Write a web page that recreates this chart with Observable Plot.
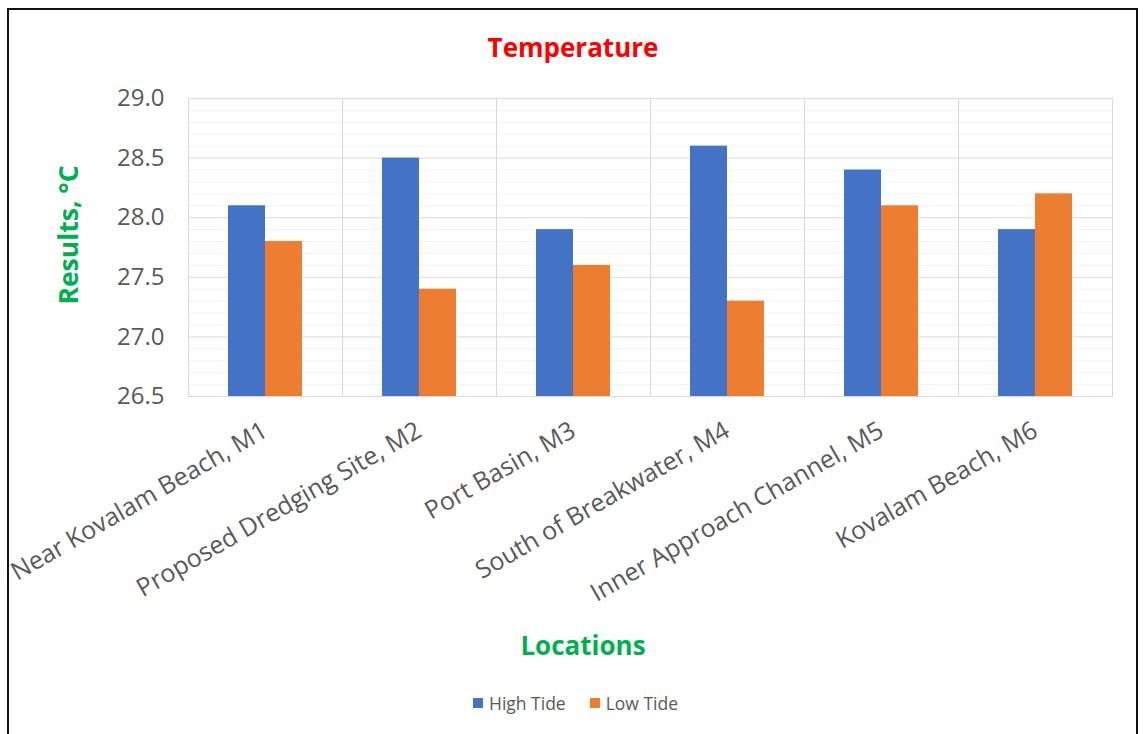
<!DOCTYPE html>
<html>
<head>
<meta charset="utf-8">
<script src="https://cdn.jsdelivr.net/npm/d3@7"></script>
<script src="https://cdn.jsdelivr.net/npm/@observablehq/plot@0.6"></script>
<style>
  body { margin: 0; background: #fff; font-family: "Open Sans", sans-serif; }
  #wrap { position: relative; width: 1145px; height: 734px; overflow: hidden; background: #fff; }
  #border { position: absolute; left: 7px; top: 8px; width: 1127px; height: 760px; border: 2px solid #111; box-sizing: content-box; }
  #chart { position: absolute; left: 0; top: 0; }
  .t { position: absolute; white-space: nowrap; }
  #title { left: 573px; top: 47px; transform: translate(-50%, -50%); color: #ff0000; font-weight: 700; font-size: 26px; }
  #ylab { left: 68px; top: 235px; transform: translate(-50%, -50%) rotate(-90deg); color: #00b050; font-weight: 700; font-size: 26.5px; }
  #xlab { left: 583px; top: 645px; transform: translate(-50%, -50%); color: #00b050; font-weight: 700; font-size: 26px; }
  #legend { left: 473px; top: 703px; transform: translateY(-50%); display: flex; align-items: center; font-size: 17.5px; color: #595959; }
  .sw { display: inline-block; width: 10px; height: 10px; margin-right: 6px; }
  .item { display: flex; align-items: center; margin-right: 24px; }
</style>
</head>
<body>
<div id="wrap">
  <div id="border"></div>
  <div id="chart"></div>
  <div class="t" id="title">Temperature</div>
  <div class="t" id="ylab">Results, °C</div>
  <div class="t" id="xlab">Locations</div>
  <div class="t" id="legend"></div>
</div>
<script>
const locations = [
  "Near Kovalam Beach, M1",
  "Proposed Dredging Site, M2",
  "Port Basin, M3",
  "South of Breakwater, M4",
  "Inner Approach Channel, M5",
  "Kovalam Beach, M6"
];
const seriesNames = ["High Tide", "Low Tide"];
const highTide = [28.1, 28.5, 27.9, 28.6, 28.4, 27.9];
const lowTide  = [27.8, 27.4, 27.6, 27.3, 28.1, 28.2];
const seriesColors = ["#4472c4", "#ed7d31"];
const yMin = 26.5, yMax = 29.0;
const majorTicks = [26.5, 27.0, 27.5, 28.0, 28.5, 29.0];
const minorTicks = [26.6, 26.7, 26.8, 26.9, 27.1, 27.2, 27.3, 27.4, 27.6, 27.7, 27.8, 27.9,
                    28.1, 28.2, 28.3, 28.4, 28.6, 28.7, 28.8, 28.9];

const rows = [];
locations.forEach((loc, i) => {
  rows.push({loc, series: seriesNames[0], value: highTide[i]});
  rows.push({loc, series: seriesNames[1], value: lowTide[i]});
});

const chart = Plot.plot({
  width: 1145,
  height: 620,
  marginLeft: 187,
  marginRight: 33,
  marginTop: 98,
  marginBottom: 224,
  style: { fontFamily: "Open Sans, sans-serif", background: "transparent", overflow: "visible" },
  fx: { domain: locations, padding: 0, label: null },
  x: { domain: seriesNames, paddingInner: 0, paddingOuter: 1.08, axis: null },
  y: { domain: [yMin, yMax], label: null },
  color: { domain: seriesNames, range: seriesColors },
  marks: [
    Plot.gridY(minorTicks, { stroke: "#f2f2f2", strokeOpacity: 1 }),
    Plot.gridY(majorTicks, { stroke: "#d9d9d9", strokeOpacity: 1 }),
    Plot.frame({ stroke: "#d9d9d9", strokeWidth: 1 }),
    Plot.barY(rows, { fx: "loc", x: "series", y1: yMin, y2: "value", fill: "series", inset: 0 }),
    Plot.axisY({ ticks: majorTicks, tickFormat: d3.format(".1f"), tickSize: 0, tickPadding: 24,
                 fontSize: 24, color: "#595959", label: null }),
    Plot.axisFx({ anchor: "bottom", tickRotate: -30, tickSize: 0, tickPadding: 32,
                  fontSize: 25, color: "#595959", label: null })
  ]
});
document.getElementById("chart").appendChild(chart);

const legend = document.getElementById("legend");
seriesNames.forEach((s, i) => {
  const it = document.createElement("span");
  it.className = "item";
  it.innerHTML = `<span class="sw" style="background:${seriesColors[i]}"></span>${s}`;
  legend.appendChild(it);
});
</script>
</body>
</html>
